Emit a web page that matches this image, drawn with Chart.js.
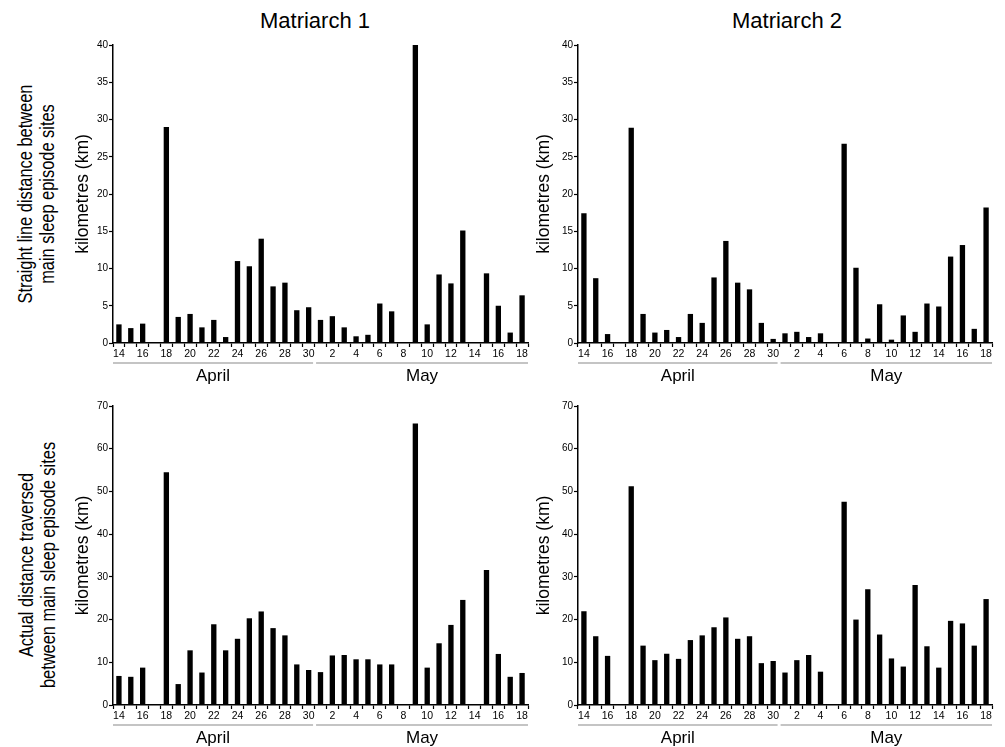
<!DOCTYPE html>
<html>
<head>
<meta charset="utf-8">
<script src="https://cdn.jsdelivr.net/npm/chart.js@4.4.1/dist/chart.umd.min.js"></script>
<style>
  body { margin: 0; background: #fff; width: 1005px; height: 747px; position: relative; overflow: hidden;
         font-family: "Liberation Sans", Arial, Helvetica, sans-serif; color: #000; }
  canvas { position: absolute; }
  .colTitle { position: absolute; font-size: 22px; transform: translate(-50%, -50%); white-space: nowrap; }
  .rowTitle { position: absolute; font-size: 20px; line-height: 22px; text-align: center; white-space: nowrap;
              transform: translate(-50%, -50%) rotate(-90deg) scaleX(0.82); }
</style>
</head>
<body>
<div class="colTitle" style="left:315px; top:21px;">Matriarch 1</div>
<div class="colTitle" style="left:787px; top:21px;">Matriarch 2</div>
<div class="rowTitle" style="left:36px; top:194px;">Straight line distance between<br>main sleep episode sites</div>
<div class="rowTitle" style="left:37px; top:565px;">Actual distance traversed<br>between main sleep episode sites</div>

<canvas id="m1Straight"></canvas>
<canvas id="m2Straight"></canvas>
<canvas id="m1Actual"></canvas>
<canvas id="m2Actual"></canvas>

<script>
// days: 14 April .. 18 May
const aprilDays = ["14","15","16","17","18","19","20","21","22","23","24","25","26","27","28","29","30"];
const mayDays = ["1","2","3","4","5","6","7","8","9","10","11","12","13","14","15","16","17","18"];
const dayLabels = aprilDays.concat(mayDays);
const months = ["April", "May"];

// straight line distance (km)
const m1StraightApr = [2.5, 2.0, 2.6, null, 29.0, 3.5, 3.9, 2.1, 3.1, 0.8, 11.0, 10.3, 14.0, 7.6, 8.1, 4.4, 4.8];
const m1StraightMay = [3.1, 3.6, 2.1, 0.9, 1.1, 5.3, 4.25, null, 40.0, 2.5, 9.2, 8.0, 15.1, null, 9.35, 5.0, 1.4, 6.4];
const m2StraightApr = [17.4, 8.7, 1.2, null, 28.9, 3.9, 1.4, 1.75, 0.8, 3.9, 2.7, 8.8, 13.7, 8.1, 7.2, 2.7, 0.55];
const m2StraightMay = [1.3, 1.5, 0.8, 1.3, null, 26.75, 10.1, 0.6, 5.2, 0.45, 3.7, 1.5, 5.3, 4.9, 11.6, 13.15, 1.9, 18.2];

// actual distance traversed (km)
const m1ActualApr = [6.8, 6.6, 8.75, null, 54.5, 4.9, 12.8, 7.6, 18.9, 12.8, 15.5, 20.3, 21.9, 18.0, 16.3, 9.5, 8.2];
const m1ActualMay = [7.7, 11.6, 11.7, 10.7, 10.7, 9.5, 9.5, null, 65.9, 8.75, 14.45, 18.75, 24.6, null, 31.6, 11.95, 6.6, 7.5];
const m2ActualApr = [21.95, 16.1, 11.5, null, 51.2, 13.9, 10.5, 12.0, 10.8, 15.2, 16.3, 18.2, 20.5, 15.5, 16.1, 9.8, 10.3];
const m2ActualMay = [7.6, 10.5, 11.7, 7.8, null, 47.6, 20.0, 27.1, 16.5, 10.9, 9.0, 28.1, 13.75, 8.75, 19.7, 19.1, 13.9, 24.8];

const straightTicks = { max: 40, step: 5 };
const actualTicks = { max: 70, step: 10 };

const FONT = "'Liberation Sans', Arial, Helvetica, sans-serif";
const PAD_TOP = 10, PAD_RIGHT = 10, X_AXIS_H = 45;

// grey underline + month name under each block of days
const monthGroups = {
  id: "monthGroups",
  afterDraw(chart) {
    const x = chart.scales.x;
    const ctx = chart.ctx;
    const half = (x.getPixelForValue(1) - x.getPixelForValue(0)) / 2;
    const bottom = chart.chartArea.bottom;
    const groups = [
      { label: months[0], from: 0, to: aprilDays.length - 1 },
      { label: months[1], from: aprilDays.length, to: dayLabels.length - 1 }
    ];
    ctx.save();
    groups.forEach((g, i) => {
      const l = x.getPixelForValue(g.from) - half + (i === 0 ? 0 : 1.5);
      const r = x.getPixelForValue(g.to) + half - (i === groups.length - 1 ? 0 : 1.5);
      ctx.strokeStyle = "#8a8a8a";
      ctx.lineWidth = 1.2;
      ctx.beginPath();
      ctx.moveTo(l, bottom + 20);
      ctx.lineTo(r, bottom + 20);
      ctx.stroke();
      ctx.fillStyle = "#000";
      ctx.font = "17px " + FONT;
      ctx.textAlign = "center";
      ctx.textBaseline = "middle";
      ctx.fillText(g.label, (l + r) / 2, bottom + 33);
    });
    ctx.restore();
  }
};

function makePanel(id, values, yCfg, box) {
  const yWidth = box.yWidth;
  const canvas = document.getElementById(id);
  const w = (box.right - box.axisX) + yWidth + PAD_RIGHT;
  const h = PAD_TOP + (box.bottom - box.top) + X_AXIS_H;
  canvas.width = w;
  canvas.height = h;
  canvas.style.left = (box.axisX - yWidth) + "px";
  canvas.style.top = (box.top - PAD_TOP) + "px";
  canvas.style.width = w + "px";
  canvas.style.height = h + "px";

  return new Chart(canvas.getContext("2d"), {
    type: "bar",
    data: {
      labels: dayLabels,
      datasets: [{
        data: values,
        backgroundColor: "#000",
        borderWidth: 0,
        barPercentage: 0.45,
        categoryPercentage: 1.0
      }]
    },
    options: {
      responsive: false,
      animation: false,
      layout: { padding: { top: PAD_TOP, right: PAD_RIGHT, left: 0, bottom: 0 } },
      plugins: { legend: { display: false }, tooltip: { enabled: false } },
      scales: {
        x: {
          type: "category",
          offset: true,
          afterFit: (s) => { s.height = X_AXIS_H; },
          border: { color: "#000", width: 1.5 },
          grid: { offset: true, drawOnChartArea: false, tickLength: 4, tickColor: "#000", tickWidth: 1.2 },
          ticks: {
            autoSkip: false,
            maxRotation: 0,
            padding: 1,
            color: "#000",
            font: { size: 10.5, family: FONT },
            callback: function (value, index) {
              return index % 2 === 0 ? this.getLabelForValue(value) : "";
            }
          }
        },
        y: {
          min: 0,
          max: yCfg.max,
          afterFit: (s) => { s.width = yWidth; },
          border: { color: "#000", width: 1.5 },
          grid: { drawOnChartArea: false, tickLength: 4, tickColor: "#000", tickWidth: 1.2 },
          ticks: {
            stepSize: yCfg.step,
            padding: 1,
            color: "#000",
            font: { size: 10, family: FONT }
          },
          title: {
            display: true,
            text: "kilometres (km)",
            color: "#000",
            padding: { top: 0, bottom: 0 },
            font: { size: 17.5, family: FONT }
          }
        }
      }
    },
    plugins: [monthGroups]
  });
}

makePanel("m1Straight", m1StraightApr.concat(m1StraightMay), straightTicks,
  { axisX: 113, right: 528, top: 45, bottom: 343, yWidth: 40 });
makePanel("m2Straight", m2StraightApr.concat(m2StraightMay), straightTicks,
  { axisX: 578, right: 992, top: 45, bottom: 343, yWidth: 44 });
makePanel("m1Actual", m1ActualApr.concat(m1ActualMay), actualTicks,
  { axisX: 113, right: 528, top: 406, bottom: 705, yWidth: 40 });
makePanel("m2Actual", m2ActualApr.concat(m2ActualMay), actualTicks,
  { axisX: 578, right: 992, top: 406, bottom: 705, yWidth: 44 });
</script>
</body>
</html>
